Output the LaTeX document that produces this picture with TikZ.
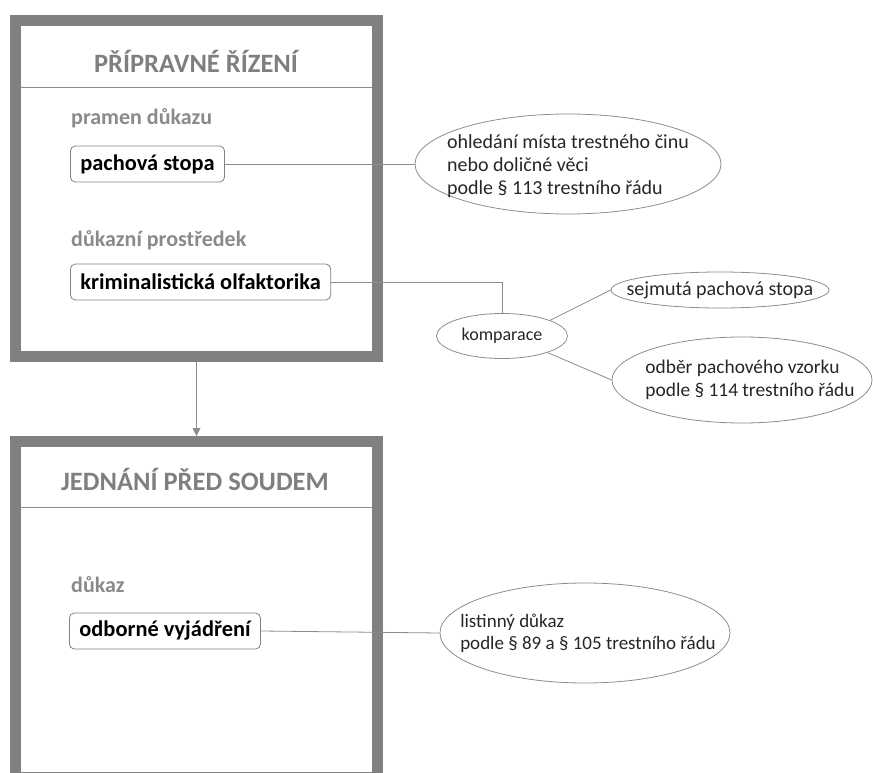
\documentclass[tikz,border=0pt]{standalone}
\usepackage{fontspec}
\setmainfont{Carlito}
\usetikzlibrary{shapes.geometric,arrows.meta}
\definecolor{boxgray}{HTML}{808080}
\definecolor{linegray}{HTML}{8C8C8C}
\definecolor{labgray}{HTML}{8A8A8A}
\definecolor{titlegray}{HTML}{7F7F7F}
\tikzset{
  bigbox/.style={draw=boxgray, line width=11pt, minimum width=362pt, minimum height=336pt, inner sep=0pt},
  sepline/.style={draw=linegray, line width=0.9pt},
  titletext/.style={text=titlegray, font=\fontsize{26.5}{30}\selectfont\bfseries, inner sep=0pt},
  labtext/.style={text=labgray, font=\fontsize{22}{25}\selectfont\bfseries, anchor=west, inner sep=0pt},
  termbox/.style={draw=boxgray, line width=0.8pt, rounded corners=5pt, anchor=west, minimum height=36pt, inner xsep=10pt, inner ysep=0pt, font=\fontsize{22.4}{25}\selectfont\bfseries, text=black},
  oval/.style={draw=linegray, line width=0.8pt, ellipse, inner sep=0pt},
  ovaltext/.style={align=left, inner sep=0pt, font=\fontsize{20}{23}\selectfont, text=black!85},
  conn/.style={draw=linegray, line width=0.8pt},
}
\begin{document}
\begin{tikzpicture}[x=1pt,y=-1pt]
\useasboundingbox (0,0) rectangle (873,773);
\clip (0,0) rectangle (873,773);
% big boxes
\node[bigbox] (b1) at (196.5,188.5) {};
\node[bigbox] (b2) at (196.5,609.5) {};
\draw[sepline] (21,87) -- (372,87);
\draw[sepline] (21,507) -- (372,507);
\node[titletext] (t1) at (196,61) {PŘÍPRAVNÉ ŘÍZENÍ};
\node[titletext] (t2) at (195,479) {JEDNÁNÍ PŘED SOUDEM};
% labels
\node[labtext] (l1) at (71,118) {pramen důkazu};
\node[labtext] (l2) at (71,240) {důkazní prostředek};
\node[labtext] (l3) at (71,585) {důkaz};
% term boxes
\node[termbox] (ps) at (70,164) {pachová stopa};
\node[termbox] (kr) at (70,282) {kriminalistická olfaktorika};
\node[termbox] (ov) at (69,631) {odborné vyjádření};
% ellipses
\node[oval, minimum width=306pt, minimum height=100pt] (e1) at (568,164) {};
\node[ovaltext] (e1t) at (568,166) {ohledání místa trestného činu\\nebo doličné věci\\podle § 113 trestního řádu};
\node[oval, minimum width=131pt, minimum height=45pt] (ko) at (502,336) {};
\node[ovaltext, font=\fontsize{18}{21}\selectfont] (kot) at (ko) {komparace};
\node[oval, minimum width=218pt, minimum height=36pt] (sj) at (720,290) {};
\node[ovaltext] (sjt) at (sj) {sejmutá pachová stopa};
\node[oval, minimum width=260pt, minimum height=86pt] (od) at (742,380) {};
\node[ovaltext, font=\fontsize{19.4}{23}\selectfont] (odt) at (750,380) {odběr pachového vzorku\\podle § 114 trestního řádu};
\node[oval, minimum width=290pt, minimum height=100pt] (li) at (585,633) {};
\node[ovaltext, font=\fontsize{19}{22}\selectfont] (lit) at (588,633) {listinný důkaz\\podle § 89 a § 105 trestního řádu};
% connectors
\draw[conn] (ps.east) -- (e1.west);
\draw[conn] (kr.east) -| (ko.north);
\draw[conn] (ko.18) -- (sj.west);
\draw[conn] (ko.-20) -- (od.west);
\draw[conn] (ov.east) -- (li.west);
\draw[conn, -{Triangle[length=8pt,width=8pt]}, linegray] (b1.south) -- (b2.north);
\end{tikzpicture}
\end{document}
